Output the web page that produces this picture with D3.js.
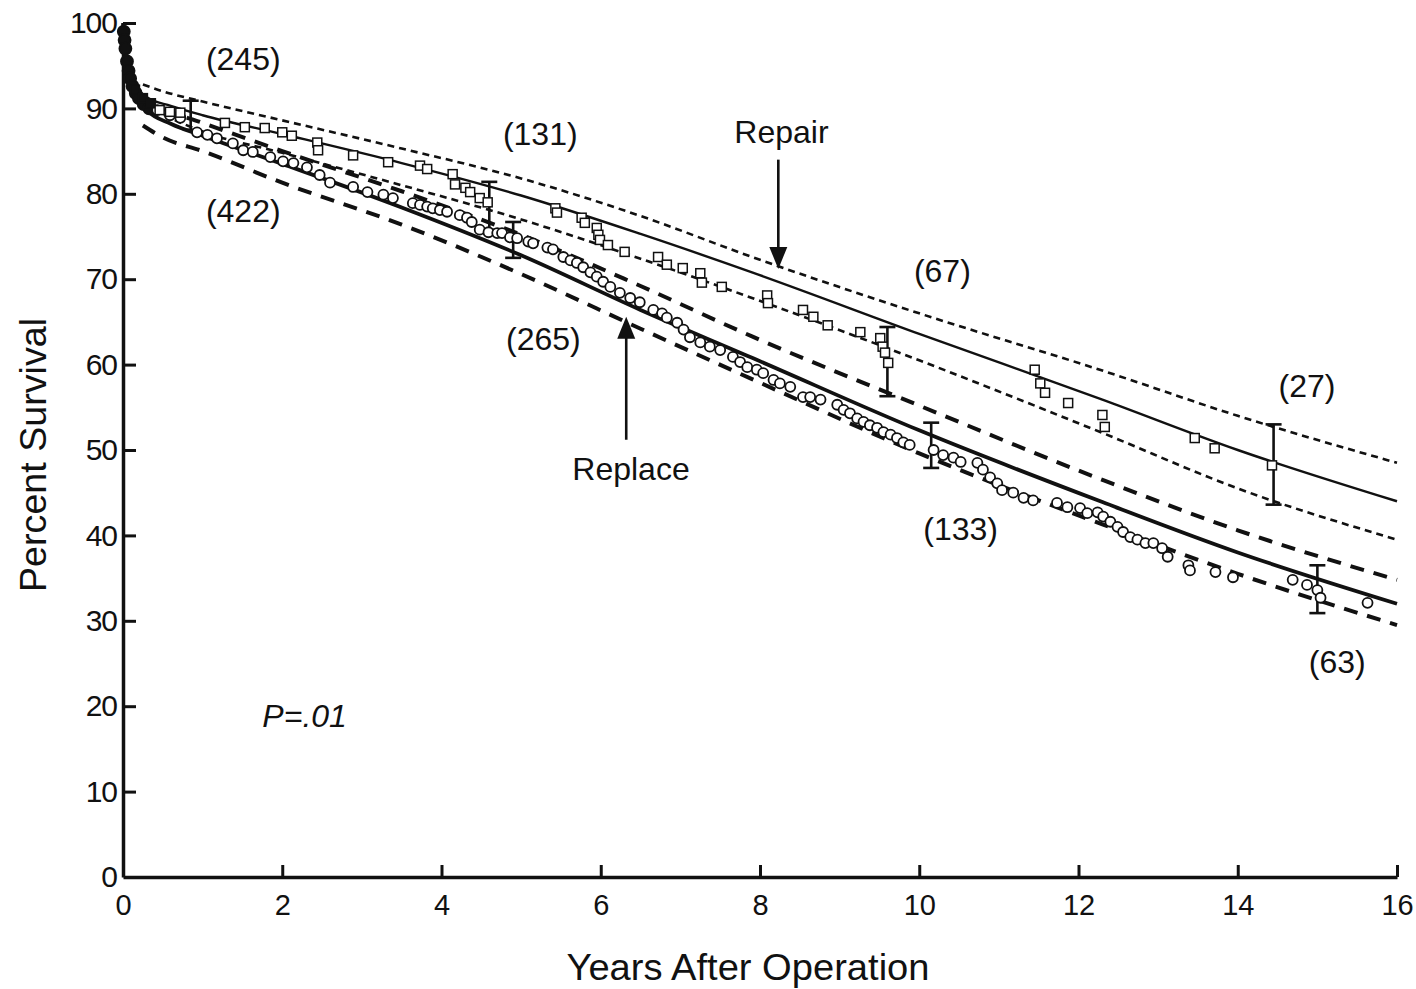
<!DOCTYPE html>
<html>
<head>
<meta charset="utf-8">
<script src="https://cdn.jsdelivr.net/npm/d3@7"></script>
<style>
  body { margin: 0; background: #fff; }
  text { font-family: "Liberation Sans", Arial, Helvetica, sans-serif; fill: #111; }
</style>
</head>
<body>
<script>
// Survival after mitral operation: repair vs replace (parametric curves + KM points)

var w = 1416;
var h = 989;
var plotLeft = 123, plotRight = 1397, plotTop = 23, plotBottom = 877;

// fitted curves (percent survival)
var curveYears  = [0, 0.03, 0.08, 0.15, 0.3, 0.6, 1, 2, 3.5, 5, 6.5, 7.9, 10, 12.3, 14, 16];
var repairSurv  = [100, 97, 94.5, 92.8, 91.3, 90.3, 89.2, 87.0, 83.6, 79.8, 75.3, 70.8, 63.6, 55.9, 50.0, 44.0];
var replaceSurv = [100, 97, 94, 91.8, 89.8, 88.2, 86.8, 83.5, 78.4, 72.8, 66.4, 60.8, 52.3, 43.9, 38.0, 32.0];

// confidence bands
var bandYears    = [0.25, 0.5, 1, 2, 3.5, 5, 6.5, 7.9, 10, 12.3, 14, 16];
var repairUpper  = [92.8, 92.0, 90.8, 88.6, 85.3, 81.8, 77.4, 72.6, 66.0, 59.3, 54.0, 48.5];
var repairLower  = [90.6, 89.3, 87.3, 84.8, 81.0, 77.0, 72.4, 67.8, 60.5, 52.0, 45.5, 39.5];
var replaceUpper = [91.2, 90.0, 88.3, 85.0, 80.3, 75.2, 69.2, 63.3, 55.2, 46.5, 40.6, 34.8];
var replaceLower = [88.0, 86.6, 85.0, 81.3, 76.4, 70.6, 64.2, 58.3, 49.6, 41.3, 35.5, 29.5];

// Kaplan-Meier points, repair (squares)
var repairYears = [0.15, 0.25, 0.35, 0.46, 0.59, 0.72, 1.28, 1.53, 1.78, 2.00, 2.12, 2.44, 2.45, 2.89, 3.33, 3.73, 3.82,
  4.14, 4.17, 4.30, 4.36, 4.48, 4.58, 5.43, 5.45, 5.76, 5.80, 5.95, 5.97, 5.99, 6.09, 6.30, 6.72, 6.83,
  7.03, 7.25, 7.27, 7.52, 8.09, 8.10, 8.54, 8.67, 8.85, 9.26, 9.51, 9.54, 9.57, 9.61, 11.45, 11.52,
  11.58, 11.87, 12.30, 12.33, 13.46, 13.71, 14.43];
var repairPct = [92.2, 91.2, 90.6, 89.8, 89.6, 89.5, 88.3, 87.8, 87.7, 87.2, 86.8, 86.0, 85.1, 84.5, 83.7, 83.3, 82.9,
  82.3, 81.1, 80.7, 80.2, 79.5, 79.0, 78.3, 77.8, 77.2, 76.6, 76.0, 75.2, 74.6, 74.0, 73.2, 72.6, 71.7,
  71.3, 70.7, 69.6, 69.1, 68.1, 67.2, 66.4, 65.6, 64.6, 63.8, 63.1, 62.1, 61.4, 60.2, 59.4, 57.8,
  56.7, 55.5, 54.1, 52.7, 51.4, 50.2, 48.2];

// Kaplan-Meier points, replace (circles)
var replaceYears = [0.01, 0.02, 0.03, 0.05, 0.07, 0.09, 0.12, 0.16, 0.2, 0.26, 0.33,
  0.43, 0.59, 0.72, 0.93, 1.06, 1.18, 1.38, 1.51, 1.63, 1.85, 2.01, 2.14, 2.31, 2.47, 2.60, 2.89,
  3.07, 3.27, 3.39, 3.64, 3.73, 3.82, 3.89, 3.98, 4.07, 4.23, 4.32, 4.38, 4.48, 4.59, 4.70, 4.76,
  4.86, 4.95, 5.09, 5.15, 5.33, 5.40, 5.53, 5.62, 5.70, 5.78, 5.87, 5.95, 6.03, 6.12, 6.24, 6.37,
  6.49, 6.66, 6.77, 6.83, 6.96, 7.04, 7.12, 7.25, 7.37, 7.50, 7.66, 7.75, 7.84, 7.96, 8.04, 8.17,
  8.25, 8.38, 8.54, 8.63, 8.76, 8.97, 9.05, 9.13, 9.22, 9.30, 9.38, 9.47, 9.55, 9.64, 9.72, 9.80,
  9.88, 10.18, 10.30, 10.43, 10.52, 10.73, 10.80, 10.89, 10.98, 11.04, 11.18, 11.31, 11.43, 11.73,
  11.86, 12.02, 12.11, 12.24, 12.31, 12.40, 12.49, 12.56, 12.65, 12.74, 12.84, 12.94, 13.05, 13.12,
  13.38, 13.40, 13.72, 13.94, 14.69, 14.87, 15.00, 15.04, 15.63];
var replacePct = [99.0, 98.0, 97.0, 95.5, 94.4, 93.5, 92.6, 91.8, 91.2, 90.5, 90.0,
  89.8, 89.2, 88.9, 87.2, 86.9, 86.5, 85.9, 85.1, 84.9, 84.3, 83.8, 83.6, 83.1, 82.2, 81.3, 80.8,
  80.2, 79.9, 79.5, 78.9, 78.7, 78.5, 78.3, 78.1, 77.9, 77.5, 77.2, 76.7, 75.8, 75.5, 75.4, 75.4,
  74.9, 74.8, 74.4, 74.2, 73.7, 73.5, 72.6, 72.2, 71.9, 71.4, 70.8, 70.3, 69.7, 69.1, 68.4, 67.8,
  67.3, 66.4, 66.0, 65.5, 64.9, 64.1, 63.2, 62.6, 62.1, 61.7, 60.9, 60.3, 59.7, 59.4, 59.0, 58.2,
  57.8, 57.4, 56.2, 56.2, 55.9, 55.3, 54.7, 54.3, 53.7, 53.3, 52.9, 52.6, 52.1, 51.8, 51.4, 50.9,
  50.6, 50.0, 49.4, 49.1, 48.6, 48.5, 47.7, 46.8, 46.1, 45.3, 45.0, 44.4, 44.1, 43.8,
  43.3, 43.2, 42.6, 42.7, 42.2, 41.6, 41.0, 40.4, 39.8, 39.5, 39.1, 39.1, 38.5, 37.5,
  36.5, 35.9, 35.7, 35.1, 34.8, 34.2, 33.6, 32.7, 32.1];

// error bars (70% confidence limits)
var repairBarYears = [0.85, 4.6, 9.6, 14.45];
var repairBarLo    = [87.5, 75.8, 56.3, 43.6];
var repairBarHi    = [90.9, 81.4, 64.4, 53.0];
var replaceBarYears = [4.9, 10.15, 15.0];
var replaceBarLo    = [72.5, 47.9, 30.9];
var replaceBarHi    = [76.7, 53.2, 36.5];

// axis ticks
var xTicks = [0, 2, 4, 6, 8, 10, 12, 14, 16];
var yTicks = [0, 10, 20, 30, 40, 50, 60, 70, 80, 90, 100];

// annotations (numbers at risk etc.)
var noteText  = ["(245)", "(422)", "(131)", "Repair", "(67)", "(265)", "Replace", "(27)", "(133)", "(63)"];
var noteYears = [1.51, 1.51, 5.24, 8.27, 10.29, 5.28, 6.38, 14.87, 10.52, 15.25];
var notePct   = [94.5, 76.7, 85.7, 85.9, 69.7, 61.7, 46.5, 56.2, 39.5, 23.9];

// arrows: [year, from %, to %]
var repairArrow  = [8.23, 84.0, 71.2];
var replaceArrow = [6.32, 51.2, 65.6];

var x = d3.scaleLinear().domain([0, 16]).range([plotLeft, plotRight]);
var y = d3.scaleLinear().domain([0, 100]).range([plotBottom, plotTop]);

var svg = d3.select("body")
  .append("svg")
  .attr("width", w)
  .attr("height", h);

svg.append("rect").attr("width", w).attr("height", h).attr("fill", "#fff");

//Axes
var xAxis = d3.axisBottom(x)
  .tickValues(xTicks)
  .tickSizeInner(-12)
  .tickSizeOuter(0)
  .tickPadding(17);

var yAxis = d3.axisLeft(y)
  .tickValues(yTicks)
  .tickSizeInner(-13)
  .tickSizeOuter(0)
  .tickPadding(6);

var gx = svg.append("g")
  .attr("transform", "translate(0," + plotBottom + ")")
  .call(xAxis);
gx.select(".domain").attr("stroke", "#111").attr("stroke-width", 3.5);
gx.selectAll(".tick line").attr("stroke", "#111").attr("stroke-width", 3)
  .attr("opacity", function(d) { return d == 0 ? 0 : 1; });
gx.selectAll(".tick text")
  .attr("font-size", "29px")
  .attr("fill", "#111");

var gy = svg.append("g")
  .attr("transform", "translate(" + plotLeft + ",0)")
  .call(yAxis);
gy.select(".domain").attr("stroke", "#111").attr("stroke-width", 3.5);
gy.selectAll(".tick line").attr("stroke", "#111").attr("stroke-width", 3)
  .attr("opacity", function(d) { return d == 0 ? 0 : 1; });
gy.selectAll(".tick text")
  .attr("font-size", "30px")
  .attr("letter-spacing", "-1px")
  .attr("fill", "#111");

//Axis titles
svg.append("text")
  .attr("x", (plotLeft + plotRight) / 2 - 12)
  .attr("y", 980)
  .attr("text-anchor", "middle")
  .attr("font-size", "36px")
  .attr("textLength", 363)
  .attr("lengthAdjust", "spacingAndGlyphs")
  .text("Years After Operation");

svg.append("text")
  .attr("transform", "translate(46," + 455 + ") rotate(-90)")
  .attr("text-anchor", "middle")
  .attr("font-size", "36px")
  .attr("textLength", 274)
  .attr("lengthAdjust", "spacingAndGlyphs")
  .text("Percent Survival");

//Lines
function lineFrom(xs, ys) {
  return d3.line()
    .x(function(d, i) { return x(xs[i]); })
    .y(function(d, i) { return y(ys[i]); })
    .curve(d3.curveMonotoneX)(ys);
}

var lines = [
  { xs: bandYears, ys: repairUpper, width: 2.6, dash: "7,5" },
  { xs: bandYears, ys: repairLower, width: 2.6, dash: "7,5" },
  { xs: bandYears, ys: replaceUpper, width: 4, dash: "14,10" },
  { xs: bandYears, ys: replaceLower, width: 4, dash: "14,10" },
  { xs: curveYears, ys: repairSurv, width: 2.4, dash: null },
  { xs: curveYears, ys: replaceSurv, width: 3.8, dash: null }
];

svg.selectAll("path.curve")
  .data(lines)
  .enter()
  .append("path")
  .attr("class", "curve")
  .attr("d", function(d) { return lineFrom(d.xs, d.ys); })
  .attr("fill", "none")
  .attr("stroke", "#111")
  .attr("stroke-width", function(d) { return d.width; })
  .attr("stroke-dasharray", function(d) { return d.dash; });

//Error bars
function drawBars(years, lo, hi) {
  var g = svg.append("g").attr("stroke", "#111").attr("stroke-width", 2.6);
  var bars = g.selectAll("g")
    .data(years)
    .enter()
    .append("g");
  bars.append("line")
    .attr("x1", function(d) { return x(d); })
    .attr("x2", function(d) { return x(d); })
    .attr("y1", function(d, i) { return y(lo[i]); })
    .attr("y2", function(d, i) { return y(hi[i]); });
  bars.append("line")
    .attr("x1", function(d) { return x(d) - 8; })
    .attr("x2", function(d) { return x(d) + 8; })
    .attr("y1", function(d, i) { return y(lo[i]); })
    .attr("y2", function(d, i) { return y(lo[i]); });
  bars.append("line")
    .attr("x1", function(d) { return x(d) - 8; })
    .attr("x2", function(d) { return x(d) + 8; })
    .attr("y1", function(d, i) { return y(hi[i]); })
    .attr("y2", function(d, i) { return y(hi[i]); });
}
drawBars(repairBarYears, repairBarLo, repairBarHi);
drawBars(replaceBarYears, replaceBarLo, replaceBarHi);

//KM points (the crowded early deaths print as a solid black smear)
svg.selectAll("circle.km")
  .data(replaceYears)
  .enter()
  .append("circle")
  .attr("class", "km")
  .attr("cx", function(d) { return x(d); })
  .attr("cy", function(d, i) { return y(replacePct[i]); })
  .attr("r", function(d) { return d < 0.35 ? 6 : 5; })
  .attr("fill", function(d) { return d < 0.35 ? "#111" : "#fff"; })
  .attr("stroke", "#111")
  .attr("stroke-width", 1.8);

svg.selectAll("rect.km")
  .data(repairYears)
  .enter()
  .append("rect")
  .attr("class", "km")
  .attr("x", function(d) { return x(d) - 4.5; })
  .attr("y", function(d, i) { return y(repairPct[i]) - 4.5; })
  .attr("width", 9)
  .attr("height", 9)
  .attr("fill", function(d) { return d < 0.4 ? "#111" : "#fff"; })
  .attr("stroke", "#111")
  .attr("stroke-width", 1.5);

//Arrows
function drawArrow(a) {
  var ax = x(a[0]), y0 = y(a[1]), y1 = y(a[2]);
  var dir = y1 > y0 ? 1 : -1;
  svg.append("line")
    .attr("x1", ax).attr("x2", ax)
    .attr("y1", y0).attr("y2", y1 - dir * 18)
    .attr("stroke", "#111").attr("stroke-width", 2.6);
  svg.append("path")
    .attr("d", "M" + ax + "," + y1 + "L" + (ax - 9) + "," + (y1 - dir * 22) +
      "L" + (ax + 9) + "," + (y1 - dir * 22) + "Z")
    .attr("fill", "#111");
}
drawArrow(repairArrow);
drawArrow(replaceArrow);

//Annotations
svg.selectAll("text.note")
  .data(noteText)
  .enter()
  .append("text")
  .attr("class", "note")
  .attr("x", function(d, i) { return x(noteYears[i]); })
  .attr("y", function(d, i) { return y(notePct[i]); })
  .attr("text-anchor", "middle")
  .attr("font-size", "32px")
  .text(function(d) { return d; });

svg.append("text")
  .attr("x", x(1.75))
  .attr("y", y(17.6))
  .attr("font-size", "32px")
  .attr("font-style", "italic")
  .text("P=.01");
</script>
</body>
</html>
